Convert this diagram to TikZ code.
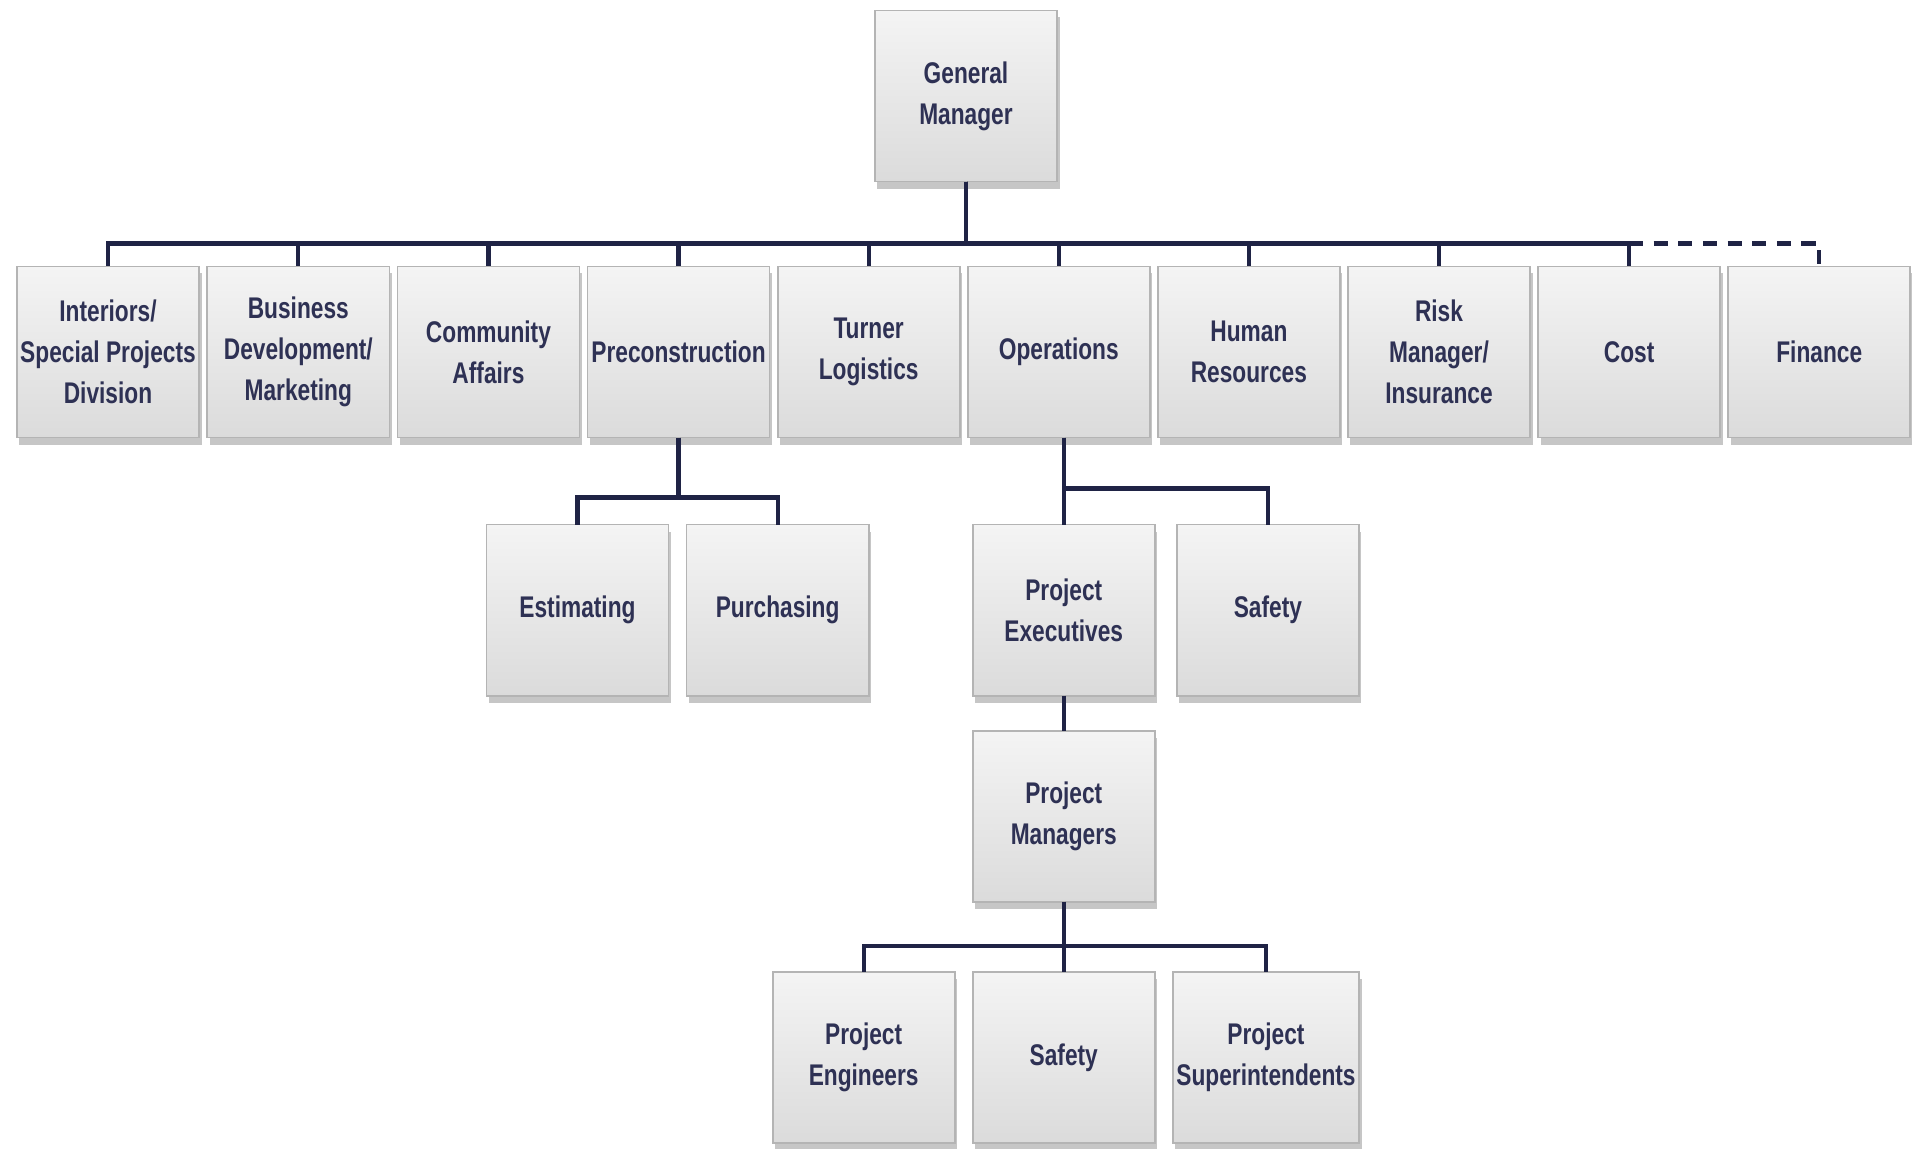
\documentclass[tikz,border=0pt]{standalone}
\usepackage{fontspec}
\setmainfont{Liberation Sans}[FakeStretch=0.76]
\usepackage{tikz}
\usetikzlibrary{positioning, shadows}

\definecolor{navytext}{HTML}{2E3154}
\definecolor{navyline}{HTML}{1F2345}
\definecolor{boxtop}{HTML}{F4F4F4}
\definecolor{boxbot}{HTML}{DBDBDB}
\definecolor{boxedge}{HTML}{B4B4B4}

\begin{document}
\begin{tikzpicture}[x=0.01cm, y=-0.01cm]

\tikzset{
  box/.style={
    rectangle, draw=boxedge, line width=0.5pt,
    top color=boxtop, bottom color=boxbot,
    drop shadow={shadow xshift=0.25mm, shadow yshift=-0.7mm, opacity=0.45},
    align=center, text=navytext,
    minimum height=1.71cm, minimum width=1.82cm,
    inner sep=1pt, outer sep=0pt,
    font=\bfseries\fontsize{8.5}{11.6}\selectfont
  },
  link/.style={draw=navyline, line width=1.2pt},
  dashlink/.style={link, dash pattern=on 4pt off 3pt}
}

\useasboundingbox (0,0) rectangle (1912,1148);

% ==========================
% Top level
% ==========================
\node[box] (gm) at (966,96) {General\\Manager};

% ==========================
% Departments (first row)
% ==========================
\node[box] (interiors) at (108,352) {Interiors/\\Special Projects\\Division};
\node[box, right=0.08cm of interiors] (busdev) {Business\\Development/\\Marketing};
\node[box, right=0.08cm of busdev] (community) {Community\\Affairs};
\node[box, right=0.08cm of community] (precon) {Preconstruction};
\node[box, right=0.08cm of precon] (logistics) {Turner\\Logistics};
\node[box, right=0.08cm of logistics] (ops) {Operations};
\node[box, right=0.08cm of ops] (hr) {Human\\Resources};
\node[box, right=0.08cm of hr] (risk) {Risk\\Manager/\\Insurance};
\node[box, right=0.08cm of risk] (cost) {Cost};
\node[box, right=0.08cm of cost] (finance) {Finance};

\coordinate (bus) at ([yshift=-0.62cm]gm.south);

\draw[link] (gm.south) -- (bus) -| (interiors.north);
\draw[link] (gm.south) -- (bus) -| (busdev.north);
\draw[link] (gm.south) -- (bus) -| (community.north);
\draw[link] (gm.south) -- (bus) -| (precon.north);
\draw[link] (gm.south) -- (bus) -| (logistics.north);
\draw[link] (gm.south) -- (bus) -| (ops.north);
\draw[link] (gm.south) -- (bus) -| (hr.north);
\draw[link] (gm.south) -- (bus) -| (risk.north);
\draw[link] (gm.south) -- (bus) -| (cost.north);
\draw[dashlink] (bus -| cost.north) -| (finance.north);

% ==========================
% Preconstruction
% ==========================
\node[box, below=0.87cm of precon, xshift=-1.01cm] (estim) {Estimating};
\node[box, right=0.18cm of estim] (purch) {Purchasing};

\draw[link] (precon.south) -- ++(0,-0.6cm) -| (estim.north);
\draw[link] (precon.south) -- ++(0,-0.6cm) -| (purch.north);

% ==========================
% Operations
% ==========================
\node[box, below=0.87cm of ops, xshift=0.05cm] (pe) {Project\\Executives};
\node[box, right=0.22cm of pe] (safety) {Safety};
\node[box, below=0.35cm of pe] (pm) {Project\\Managers};

\draw[link] (pe.north |- ops.south) -- (pe.north);
\draw[link] (pe.north |- ops.south) -- ++(0,-0.51cm) -| (safety.north);
\draw[link] (pe.south) -- (pm.north);

% ==========================
% Project team (bottom row)
% ==========================
\node[box, below=0.70cm of pm] (sitesafety) {Safety};
\node[box, left=0.18cm of sitesafety] (eng) {Project\\Engineers};
\node[box, right=0.18cm of sitesafety] (supt) {Project\\Superintendents};

\draw[link] (pm.south) -- (sitesafety.north);
\draw[link] (pm.south) -- ++(0,-0.44cm) -| (eng.north);
\draw[link] (pm.south) -- ++(0,-0.44cm) -| (supt.north);

\end{tikzpicture}
\end{document}
